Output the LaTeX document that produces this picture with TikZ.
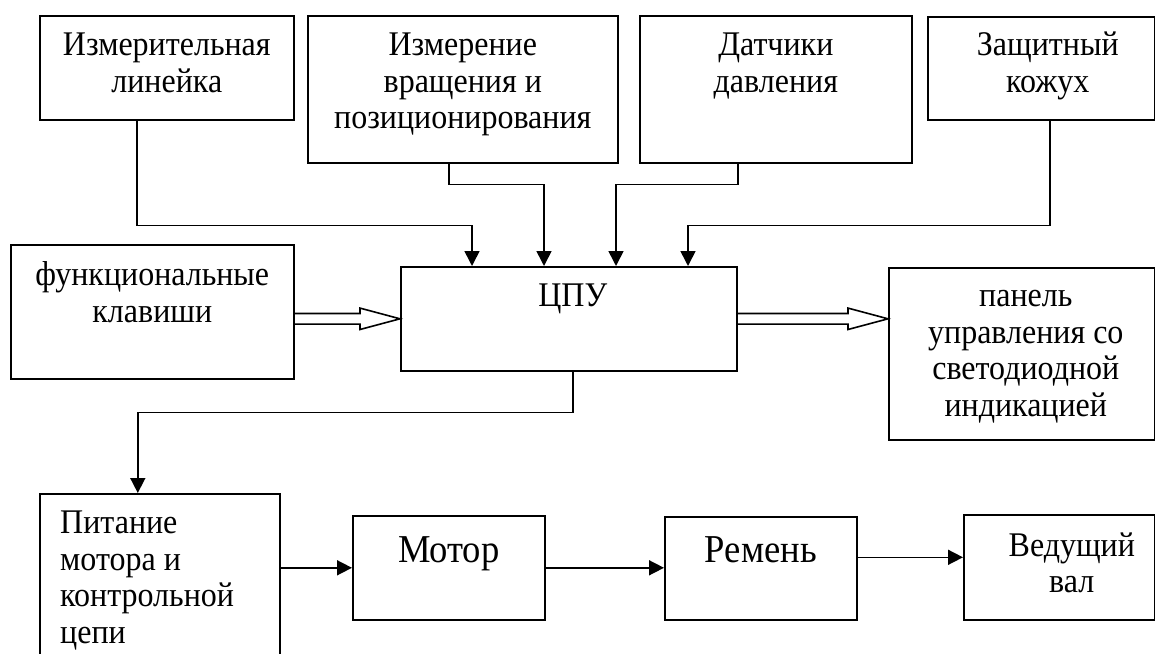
\documentclass[tikz,border=0pt]{standalone}
\usepackage{fontspec}
\setmainfont{Liberation Serif}
\usepackage{tikz}
\usetikzlibrary{positioning,calc,arrows.meta}

% wide open arrow made of two parallel lines
\newcommand{\hollowarrow}[2]{%
  \draw[line width=1.6, line join=miter]
    ($(#1)+(0,-5.3)$) -- ($(#2)+(-40,-5.3)$) -- ($(#2)+(-40,-10.7)$) -- (#2)
    -- ($(#2)+(-40,10.7)$) -- ($(#2)+(-40,5.3)$) -- ($(#1)+(0,5.3)$);}

\begin{document}
\begin{tikzpicture}[x=1pt, y=-1pt,
    blk/.style={draw, line width=1.6, inner sep=0, anchor=north west},
    txt/.style={inner sep=0, align=center, anchor=north, yscale=1.08, transform shape,
        font=\fontsize{32pt}{34pt}\selectfont},
    bigtxt/.style={txt, font=\fontsize{36.6pt}{39pt}\selectfont},
    conn/.style={line width=1.6, -{Triangle[length=15pt,width=15pt]}}]
    \useasboundingbox (0,0) rectangle (1155,653);
    \clip (0,0) rectangle (1155,653);

    % Top row: sensors
    \node[blk, minimum width=254, minimum height=104] (ruler) at (39,15) {};
    \node[blk, minimum width=310, minimum height=147] (rot) at (307,15) {};
    \node[blk, minimum width=272, minimum height=147] (press) at (639,15) {};
    \node[blk, minimum width=227, minimum height=103] (cover) at (927,16) {};
    \node[txt, below=14.5pt of ruler.north] (ruler-t) {\strut Измерительная\\линейка};
    \node[txt, below=14.5pt of rot.north] (rot-t) {\strut Измерение\\вращения и\\позиционирования};
    \node[txt, below=14.5pt of press.north] (press-t) {\strut Датчики\\давления};
    \node[txt, below=13.5pt of cover.north, xshift=6.5pt] (cover-t) {\strut Защитный\\кожух};

    % Middle row
    \node[blk, minimum width=283, minimum height=134] (keys) at (10,244) {};
    \node[blk, minimum width=336, minimum height=104] (cpu) at (400,266) {};
    \node[blk, minimum width=266, minimum height=172] (panel) at (888,267) {};
    \node[txt, below=15.5pt of keys.north] (keys-t) {\strut функциональные\\клавиши};
    \node[txt, below=14.5pt of cpu.north, xshift=4pt] (cpu-t) {\strut ЦПУ};
    \node[txt, below=13.5pt of panel.north, xshift=4pt] (panel-t)
        {\strut панель\\управления со\\светодиодной\\индикацией};

    % Bottom row: drive
    \node[blk, minimum width=240, minimum height=200] (power) at (39,493) {};
    \node[blk, minimum width=192, minimum height=104] (motor) at (352,515) {};
    \node[blk, minimum width=192, minimum height=103] (belt) at (664,516) {};
    \node[blk, minimum width=191, minimum height=105] (shaft) at (963,514) {};
    \node[txt, align=left, below right=14.5pt and 21pt of power.north west] (power-t)
        {\strut Питание\\мотора и\\контрольной\\цепи};
    \node[bigtxt, below=17.6pt of motor.north] (motor-t) {\strut Мотор};
    \node[bigtxt, below=16.6pt of belt.north] (belt-t) {\strut Ремень};
    \node[txt, below=16.3pt of shaft.north, xshift=12.5pt] (shaft-t) {\strut Ведущий\\вал};

    % Inputs to CPU
    \foreach \i in {1,...,4}
        \coordinate (in\i) at ($(cpu.north west)+(72*\i,0)$);
    \draw[conn] ([xshift=-30pt]ruler.south) -- ++(0,105) -| (in1);
    \draw[conn] ([xshift=-14pt]rot.south) -- ++(0,21) -| (in2);
    \draw[conn] ([xshift=-38pt]press.south) -- ++(0,21) -| (in3);
    \draw[conn] ([xshift=8.5pt]cover.south) -- ++(0,105) -| (in4);

    \hollowarrow{keys.east |- cpu.west}{cpu.west}
    \hollowarrow{cpu.east}{panel.west |- cpu.east}

    % CPU to drive chain
    \draw[conn] ([xshift=4pt]cpu.south) -- ++(0,41) -| ([xshift=-22pt]power.north);
    \draw[conn] (power.east |- motor.west) -- (motor.west);
    \draw[conn] (motor.east) -- (motor.east -| belt.west);
    \coordinate (b1) at ([yshift=11pt]belt.east);
    \draw[conn] (b1) -- (b1 -| shaft.west);
\end{tikzpicture}
\end{document}
